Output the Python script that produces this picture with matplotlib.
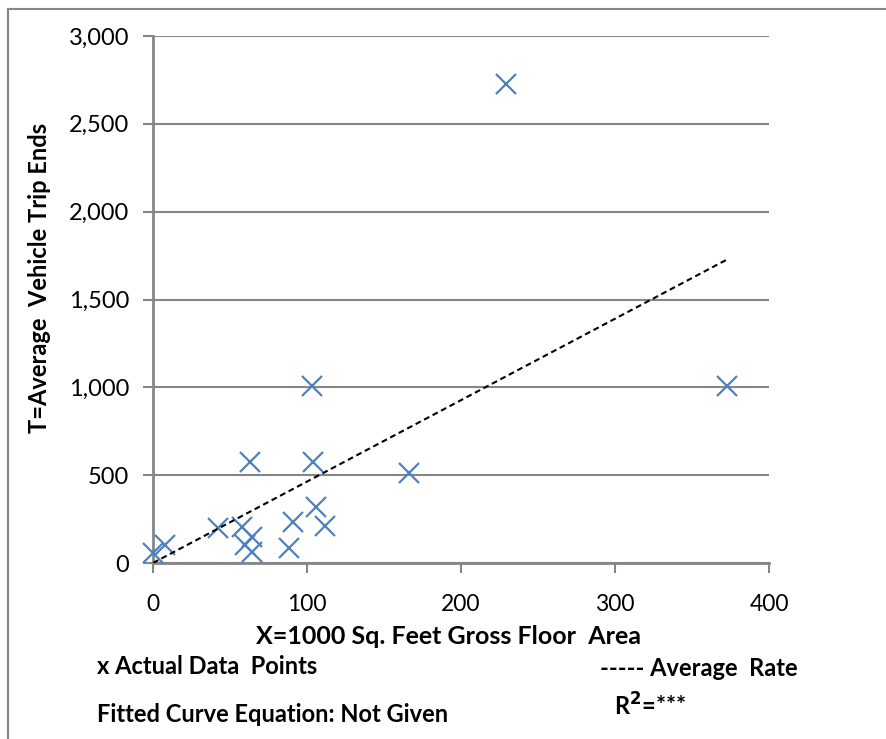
import matplotlib
matplotlib.use("Agg")
import matplotlib.pyplot as plt
from matplotlib.lines import Line2D
from matplotlib.ticker import FuncFormatter

# data
area_ksf = [0, 8, 42, 58, 60, 63, 64, 64, 88, 91, 103, 104, 106, 112, 166, 229, 373]
trip_ends = [55, 102, 201, 207, 103, 575, 150, 62, 84, 232, 1005, 575, 316, 211, 515, 2726, 1005]
avg_rate = 4.635          # trips per 1000 sq ft (dashed line)
rate_x = [0, 372]

x_ticks = [0, 100, 200, 300, 400]
y_ticks = [0, 500, 1000, 1500, 2000, 2500, 3000]

GRAY = "#868686"
BLUE = "#4F81BD"
FONT = ["Lato", "DejaVu Sans"]

fig = plt.figure(figsize=(8.86, 7.39), dpi=100)
ax = fig.add_axes([153/886, 1 - 563/739, 616/886, 527/739])

ax.plot(area_ksf, trip_ends, "x", color=BLUE, ms=14, mew=1.6, zorder=4, clip_on=False)
ax.plot(rate_x, [avg_rate * v for v in rate_x], "--", color="black", lw=1.5,
        dashes=(2.8, 1.8), zorder=5)

ax.set_xlim(0, 400); ax.set_ylim(0, 3000)
ax.set_xticks(x_ticks); ax.set_yticks(y_ticks)
ax.yaxis.set_major_formatter(FuncFormatter(lambda v, p: f"{int(v):,}"))
ax.grid(axis="y", color=GRAY, lw=1.5); ax.set_axisbelow(True)
for s in ["top", "right"]:
    ax.spines[s].set_visible(False)
for s in ["left", "bottom"]:
    ax.spines[s].set_color(GRAY); ax.spines[s].set_linewidth(2)
ax.tick_params(axis="y", direction="out", length=7, width=1.5, color=GRAY, pad=10, labelsize=17)
ax.tick_params(axis="x", direction="out", length=7, width=1.5, color=GRAY, pad=15, labelsize=16.5)
for lab in ax.get_xticklabels() + ax.get_yticklabels():
    lab.set_family(FONT)

bold = dict(family=FONT, fontweight="bold", fontsize=17)
fig.text(40/886, 1 - 278/739, "T=Average  Vehicle Trip Ends", rotation=90,
         ha="center", va="center", **bold)
fig.text(448/886, 1 - 636/739, "X=1000 Sq. Feet Gross Floor  Area", ha="center", va="center",
         family=FONT, fontweight="bold", fontsize=18)
fig.text(97/886, 1 - 667/739, "x Actual Data  Points", ha="left", va="center", **bold)
fig.text(600/886, 1 - 669/739, "----- Average  Rate", ha="left", va="center", **bold)
fig.text(97/886, 1 - 714/739, "Fitted Curve Equation: Not Given", ha="left", va="center", **bold)
fig.text(614/886, 1 - 706/739, "R$^\\mathbf{2}$=***", ha="left", va="center", **bold)

# outer frame (left and top edges only are visible in the reference)
fig.add_artist(Line2D([8/886, 8/886], [0, 1 - 9/739], color=GRAY, lw=1.5, transform=fig.transFigure))
fig.add_artist(Line2D([8/886, 1], [1 - 9/739, 1 - 9/739], color=GRAY, lw=1.5, transform=fig.transFigure))

fig.savefig("out.png", dpi=100)
